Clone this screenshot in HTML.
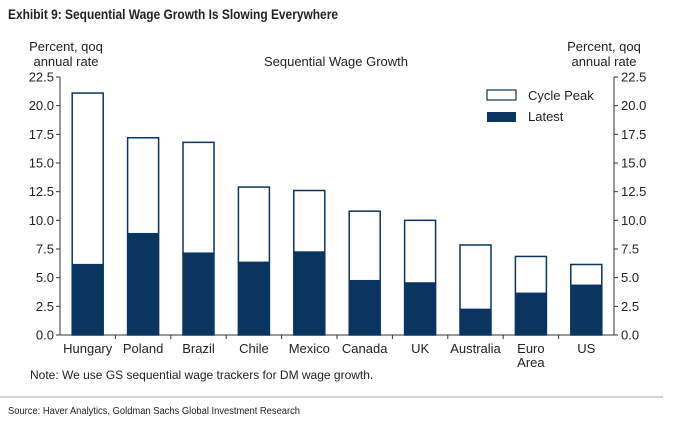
<!DOCTYPE html>
<html><head><meta charset="utf-8"><style>
body{margin:0;background:#fff;}
svg text{font-family:"Liberation Sans",sans-serif;fill:#222;}
</style></head><body>
<svg id="c" width="676" height="422" xmlns="http://www.w3.org/2000/svg">
<text x="8" y="19" font-size="14" font-weight="bold" textLength="330" lengthAdjust="spacingAndGlyphs">Exhibit 9: Sequential Wage Growth Is Slowing Everywhere</text>
<text x="66" y="51" font-size="13" text-anchor="middle">Percent, qoq</text>
<text x="66" y="66" font-size="13" text-anchor="middle">annual rate</text>
<text x="604" y="51" font-size="13" text-anchor="middle">Percent, qoq</text>
<text x="604" y="66" font-size="13" text-anchor="middle">annual rate</text>
<text x="336" y="66" font-size="13" text-anchor="middle">Sequential Wage Growth</text>
<g id="axes"></g><g id="bars"></g>
<rect x="487" y="90" width="29" height="10" fill="#fff" stroke="#0a3560" stroke-width="1.2"/>
<text x="528" y="100" font-size="13">Cycle Peak</text>
<rect x="487" y="112" width="29" height="10" fill="#0a3560"/>
<text x="528" y="121" font-size="13">Latest</text>
<text x="30" y="379" font-size="12">Note: We use GS sequential wage trackers for DM wage growth.</text>
<line x1="0" y1="397" x2="663" y2="397" stroke="#aaa" stroke-width="1"/>
<text x="8" y="414" font-size="10" textLength="292" lengthAdjust="spacingAndGlyphs">Source: Haver Analytics, Goldman Sachs Global Investment Research</text>
</svg>
<script>
const categories=["Hungary","Poland","Brazil","Chile","Mexico","Canada","UK","Australia","Euro|Area","US"];
const cyclePeak=[21.1,17.2,16.8,12.9,12.6,10.8,10.0,7.85,6.85,6.15];
const latest=[6.2,8.9,7.2,6.4,7.3,4.8,4.6,2.3,3.7,4.4];
const ticks=[0,2.5,5,7.5,10,12.5,15,17.5,20,22.5];
const NS="http://www.w3.org/2000/svg";
const L=60,R=614,T=77,B=335,MAX=22.5;
const y=v=>B-(v/MAX)*(B-T);
const bw=(R-L)/categories.length;
const x=i=>L+bw*(i+0.5);
function mk(tag,at,parent){const e=document.createElementNS(NS,tag);for(const k in at)e.setAttribute(k,at[k]);parent.appendChild(e);return e;}
const ax=document.getElementById('axes'),bg=document.getElementById('bars');
let e=mk('line',{x1:L,y1:T,x2:L,y2:B,stroke:'#333'},ax);


e=mk('line',{x1:R,y1:T,x2:R,y2:B,stroke:'#333'},ax);


e=mk('line',{x1:L,y1:B,x2:R,y2:B,stroke:'#333'},ax);


ticks.forEach(t=>{
 mk('line',{x1:L-4,y1:y(t),x2:L,y2:y(t),stroke:'#333'},ax);
 mk('line',{x1:R,y1:y(t),x2:R+4,y2:y(t),stroke:'#333'},ax);
 let a=mk('text',{x:L-6,y:y(t)+4.5,'font-size':13,'text-anchor':'end'},ax);a.textContent=t.toFixed(1);
 
 
 let b=mk('text',{x:R+7,y:y(t)+4.5,'font-size':13},ax);b.textContent=t.toFixed(1);
 
 
});
categories.forEach((c,i)=>{
 if(i>0) mk('line',{x1:L+bw*i,y1:B,x2:L+bw*i,y2:B+4,stroke:'#333'},ax);
 const w=31,cx=x(i);
 let p=mk('rect',{x:cx-w/2,y:y(cyclePeak[i]),width:w,height:B-y(cyclePeak[i]),fill:'#fff',stroke:'#0a3560','stroke-width':1.5},bg);
 
 
 let l=mk('rect',{x:cx-w/2,y:y(latest[i]),width:w,height:B-y(latest[i]),fill:'#0a3560'},bg);
 
 
 c.split('|').forEach((s,j)=>{let t=mk('text',{x:cx,y:353+j*14,'font-size':13,'text-anchor':'middle'},ax);t.textContent=s;
  
  });
});
</script>
</body></html>
